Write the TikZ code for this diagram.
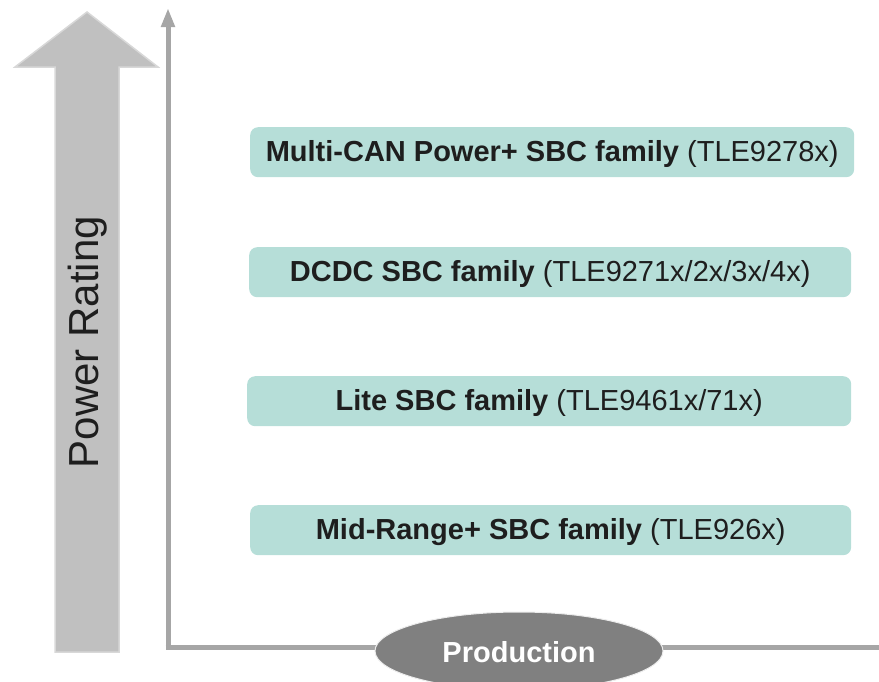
\documentclass[tikz,border=0pt]{standalone}
\usepackage{fontspec}
\setmainfont{Liberation Sans}
\usetikzlibrary{shapes.geometric,arrows.meta}
\definecolor{boxfill}{RGB}{182,222,216}
\definecolor{axisgray}{RGB}{166,166,166}
\definecolor{bigarrow}{RGB}{192,192,192}
\definecolor{bigarrowedge}{RGB}{216,216,216}
\definecolor{prodfill}{RGB}{128,128,128}
\definecolor{txt}{RGB}{30,30,30}
\tikzset{
  famBox/.style={draw=none, fill=boxfill, rounded corners=8pt, anchor=north west, inner sep=0pt, text=txt,
     font=\fontsize{29}{32}\selectfont},
  famText/.style={text=txt, font=\fontsize{29}{32}\selectfont, anchor=center, yshift=-2pt},
  axisLine/.style={draw=axisgray, line width=5pt},
}
\begin{document}
\begin{tikzpicture}[x=1pt,y=-1pt]
\useasboundingbox (0,0) rectangle (879,681);
% big arrow
\draw[fill=bigarrow, draw=bigarrowedge, line width=1.5pt, line join=miter]
  (55,652) -- (55,67) -- (15,67) -- (87,12) -- (158,67) -- (119,67) -- (119,652) -- cycle;
\node[rotate=90, text=txt, font=\fontsize{42}{46}\selectfont] (pr) at (88,342) {Power Rating};
% axes
\coordinate (origin) at (168,647.5);
\coordinate (ytip) at (168,8);
\coordinate (xend) at (879,647.5);
\draw[axisLine, -{Triangle[width=13pt,length=19pt]}] (origin) -- (ytip);
\draw[axisLine] ([xshift=-2.5pt]origin) -- (xend);
% production ellipse
\node[ellipse, fill=prodfill, draw=white!85!prodfill, line width=1pt, minimum width=288pt, minimum height=78pt, inner sep=0pt] (prod) at (519,651) {};
\node[text=white, font=\fontsize{29}{32}\selectfont\bfseries] (prodtxt) at (519,652) {Production};
% family boxes
\node[famBox, minimum width=604pt, minimum height=50pt] (b1) at (250,127) {};
\node[famText] (t1) at (b1.center) {\textbf{Multi-CAN Power+ SBC family} (TLE9278x)};
\node[famBox, minimum width=602pt, minimum height=50pt] (b2) at (249,247) {};
\node[famText] (t2) at (b2.center) {\textbf{DCDC SBC family} (TLE9271x/2x/3x/4x)};
\node[famBox, minimum width=604pt, minimum height=50pt] (b3) at (247,376) {};
\node[famText] (t3) at (b3.center) {\textbf{Lite SBC family} (TLE9461x/71x)};
\node[famBox, minimum width=601pt, minimum height=50pt] (b4) at (250,505) {};
\node[famText] (t4) at (b4.center) {\textbf{Mid-Range+ SBC family} (TLE926x)};
\end{tikzpicture}
\end{document}
